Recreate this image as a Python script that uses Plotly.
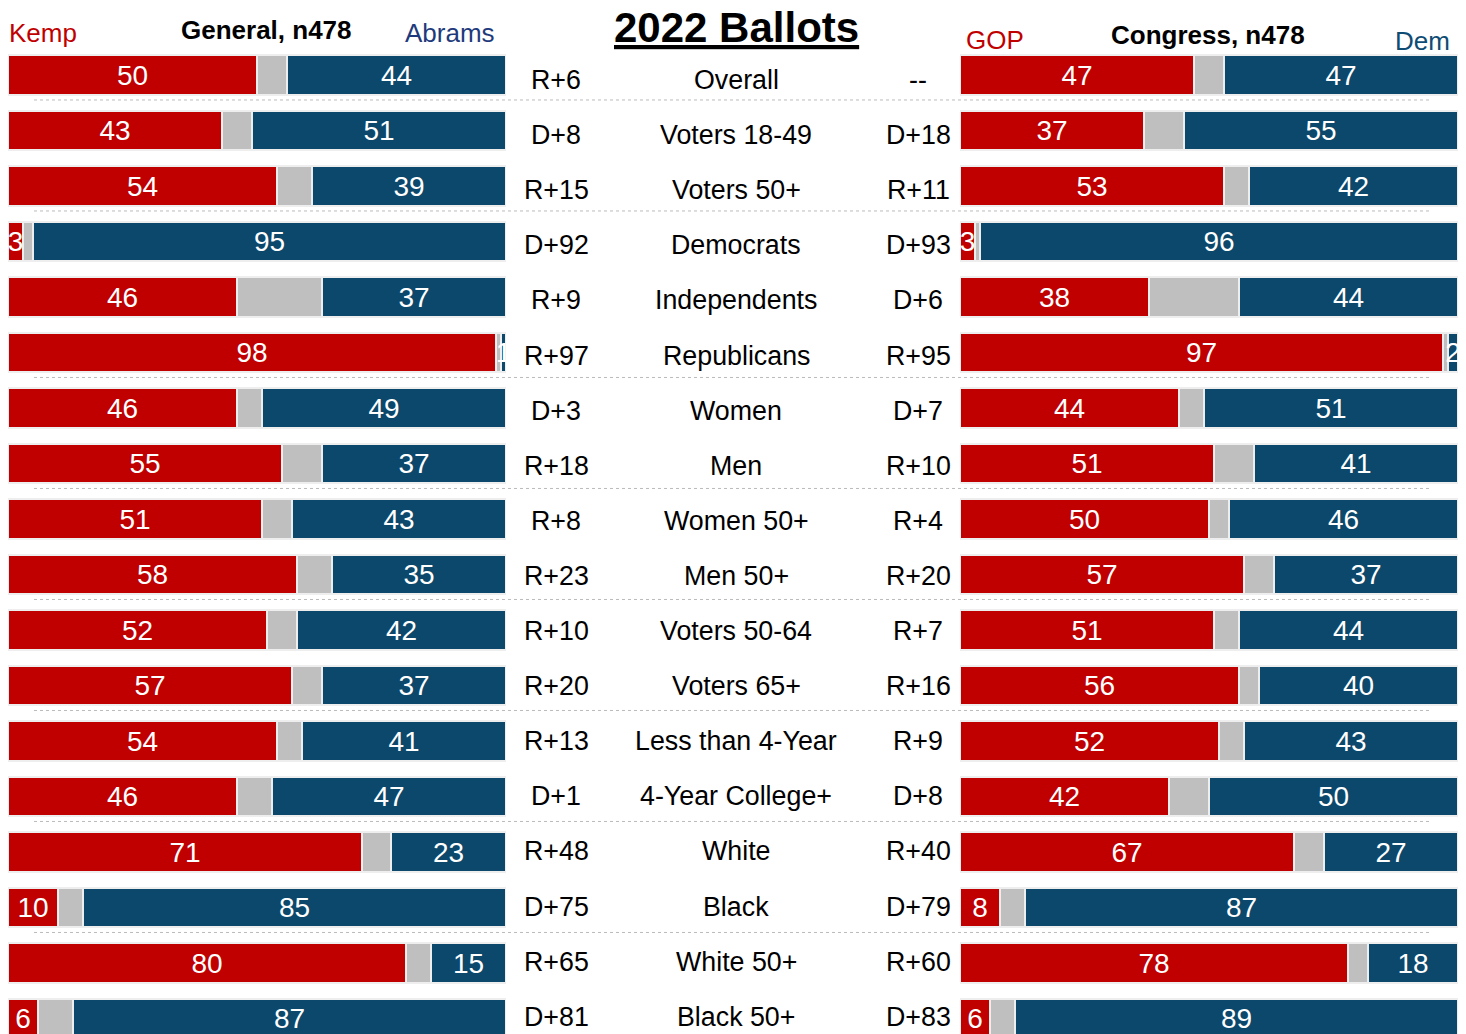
import plotly.graph_objects as go

categories = ["Overall", "Voters 18-49", "Voters 50+", "Democrats", "Independents",
              "Republicans", "Women", "Men", "Women 50+", "Men 50+", "Voters 50-64",
              "Voters 65+", "Less than 4-Year", "4-Year College+", "White", "Black",
              "White 50+", "Black 50+"]

kemp =   [50, 43, 54, 3, 46, 98, 46, 55, 51, 58, 52, 57, 54, 46, 71, 10, 80, 6]
abrams = [44, 51, 39, 95, 37, 1, 49, 37, 43, 35, 42, 37, 41, 47, 23, 85, 15, 87]
general_margin = ["R+6", "D+8", "R+15", "D+92", "R+9", "R+97", "D+3", "R+18", "R+8",
                  "R+23", "R+10", "R+20", "R+13", "D+1", "R+48", "D+75", "R+65", "D+81"]

gop = [47, 37, 53, 3, 38, 97, 44, 51, 50, 57, 51, 56, 52, 42, 67, 8, 78, 6]
dem = [47, 55, 42, 96, 44, 2, 51, 41, 46, 37, 44, 40, 43, 50, 27, 87, 18, 89]
congress_margin = ["--", "D+18", "R+11", "D+93", "D+6", "R+95", "D+7", "R+10", "R+4",
                   "R+20", "R+7", "R+16", "R+9", "D+8", "R+40", "D+79", "R+60", "D+83"]

separators_after = [0, 2, 5, 7, 9, 11, 13, 15]

RED = "#C00000"
GRAY = "#BFBFBF"
BLUE = "#0B486B"
FONT = "Liberation Sans, Arial, sans-serif"
W, H = 1466, 1034
OFF = 8  # page body margin offset

rows = list(range(len(categories)))
fig = go.Figure()


def add_panel(rep, demv, xaxis):
    und = [100 - r - d for r, d in zip(rep, demv)]
    for vals, color, show in [(rep, RED, True), (und, GRAY, False), (demv, BLUE, True)]:
        fig.add_trace(go.Bar(
            y=rows, x=vals, orientation="h", xaxis=xaxis, yaxis="y",
            marker=dict(color=color, line=dict(color="#EEEEEE", width=2)),
            width=0.72,
            text=[str(v) for v in vals] if show else None,
            textposition="inside" if show else "none",
            insidetextanchor="middle", textangle=0, constraintext="none",
            textfont=dict(color="white", size=28, family=FONT),
            hoverinfo="skip", showlegend=False,
        ))


add_panel(kemp, abrams, "x")
add_panel(gop, dem, "x2")

px_to_paper_x = lambda px: (px - OFF) / W
px_to_paper_y = lambda py: 1 - (py - OFF) / H

annotations = []
for i, cat in enumerate(categories):
    for txt, xp in [(general_margin[i], 556), (cat, 736), (congress_margin[i], 918)]:
        annotations.append(dict(
            x=px_to_paper_x(xp), xref="paper", y=i, yref="y", yshift=-5 + 0.4 * i,
            text=txt, showarrow=False, xanchor="center", yanchor="middle",
            font=dict(size=26.8, color="black", family=FONT)))

headers = [
    ("<b><u>2022 Ballots</u></b>", 736, 27, "center", 42, "black"),
    ("Kemp", 7, 33, "left", 26, RED),
    ("<b>General, n478</b>", 266, 30, "center", 26, "black"),
    ("Abrams", 497, 33, "right", 26, "#1F3A7C"),
    ("GOP", 964, 40, "left", 26, RED),
    ("<b>Congress, n478</b>", 1208, 35, "center", 26, "black"),
    ("Dem", 1452, 41, "right", 26, "#0E4C74"),
]
for txt, xp, yp, anchor, size, color in headers:
    annotations.append(dict(
        x=px_to_paper_x(xp), xref="paper", y=px_to_paper_y(yp), yref="paper",
        text=txt, showarrow=False, xanchor=anchor, yanchor="middle",
        font=dict(size=size, color=color, family=FONT)))

shapes = []
for s in separators_after:
    shapes.append(dict(
        type="line", xref="paper", yref="y",
        x0=px_to_paper_x(34), x1=px_to_paper_x(1432), y0=s + 0.45, y1=s + 0.45,
        line=dict(color="#BBBBBB", width=1, dash="dot"), layer="below"))

row_px = 55.5
top_px = 75 - OFF
y_top = -top_px / row_px
y_bot = (H - top_px) / row_px

fig.update_layout(
    width=W, height=H, margin=dict(l=0, r=0, t=0, b=0),
    paper_bgcolor="white", plot_bgcolor="white",
    barmode="stack", bargap=0,
    uniformtext=dict(mode="show", minsize=28),
    xaxis=dict(domain=[px_to_paper_x(8), px_to_paper_x(506)], range=[0, 100],
               visible=False, fixedrange=True),
    xaxis2=dict(domain=[px_to_paper_x(960), px_to_paper_x(1458)], range=[0, 100],
                visible=False, anchor="y", fixedrange=True),
    yaxis=dict(range=[y_bot, y_top], visible=False, fixedrange=True),
    annotations=annotations, shapes=shapes,
    font=dict(family=FONT),
)

fig.write_html("out.html")
